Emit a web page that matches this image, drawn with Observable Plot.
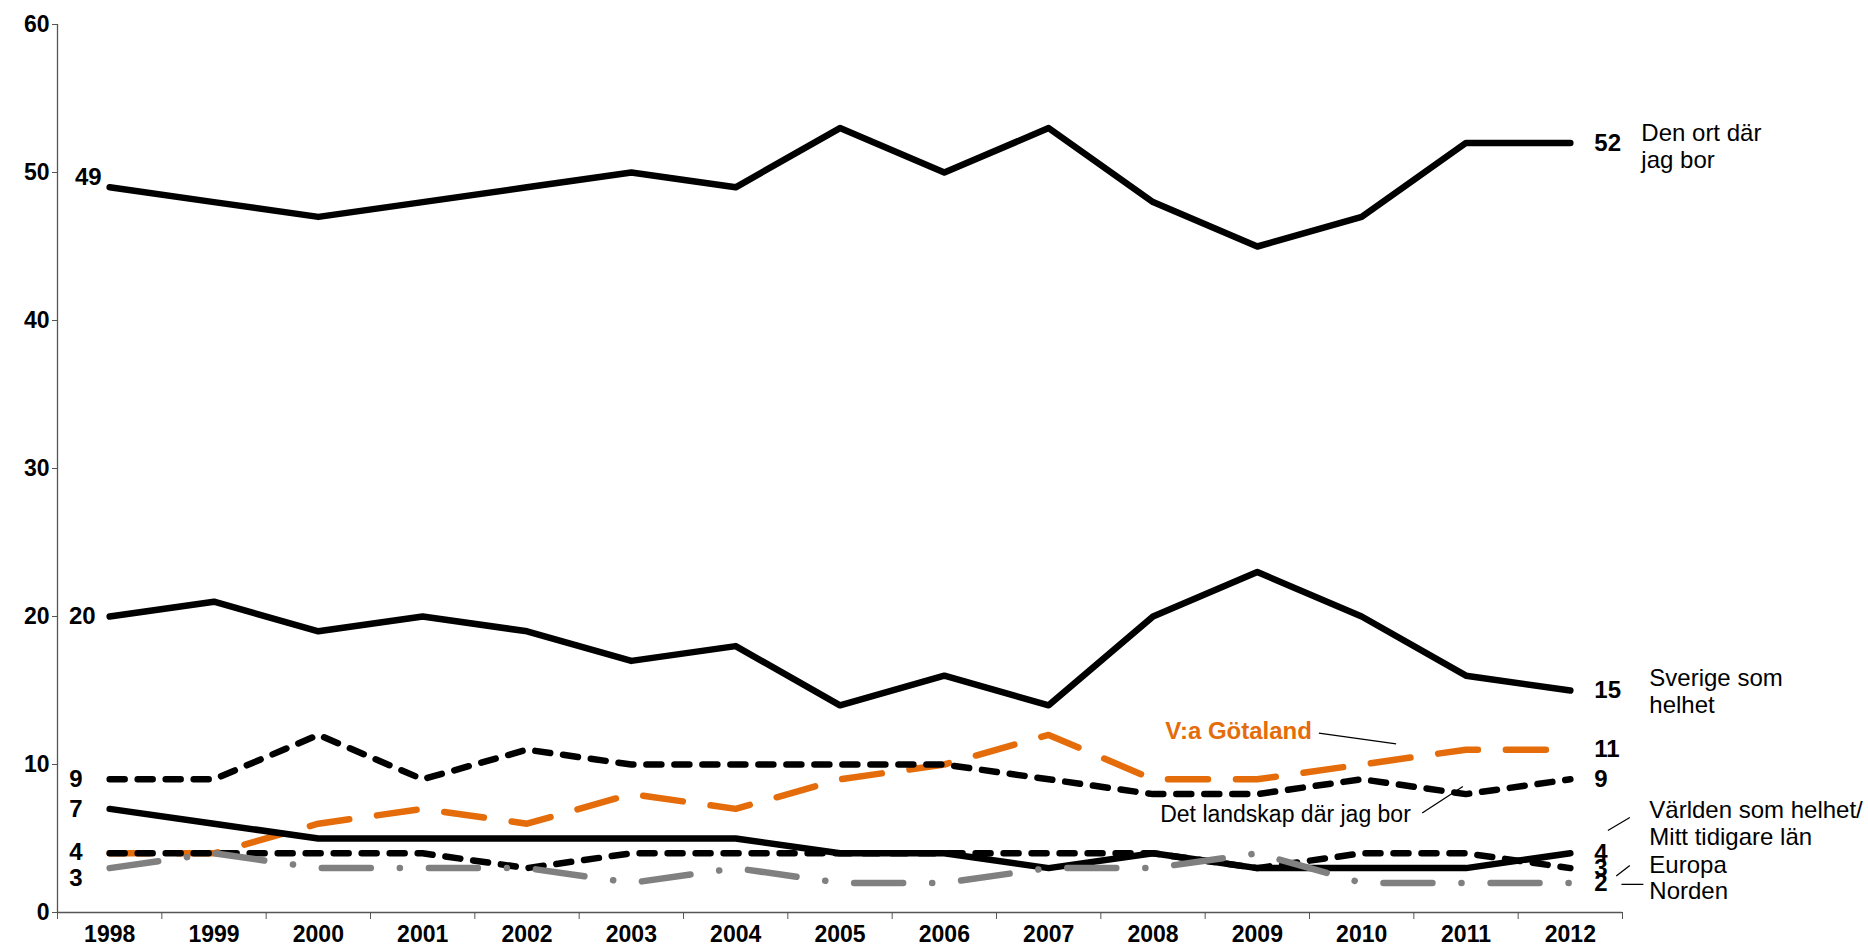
<!DOCTYPE html>
<html><head><meta charset="utf-8">
<script src="https://cdn.jsdelivr.net/npm/d3@7"></script>
<script src="https://cdn.jsdelivr.net/npm/@observablehq/plot@0.6"></script>
<style>body{margin:0;background:#fff}</style>
</head><body><div id="chart"></div>
<script>
const years = [1998,1999,2000,2001,2002,2003,2004,2005,2006,2007,2008,2009,2010,2011,2012];
const denOrtDarJagBor = [49,48,47,48,49,50,49,53,50,53,48,45,47,52,52];
const sverigeSomHelhet = [20,21,19,20,19,17,18,14,16,14,20,23,20,16,15];
const vaGotaland = [4,4,6,7,6,8,7,9,10,12,9,9,10,11,11];
const detLandskap = [9,9,12,9,11,10,10,10,10,9,8,8,9,8,9];
const varldenMittLan = [7,6,5,5,5,5,5,4,4,3,4,3,3,3,4];
const europa = [4,4,4,4,3,4,4,4,4,4,4,3,4,4,3];
const norden = [3,4,3,3,3,2,3,2,2,3,3,4,2,2,2];
const yTicks = [0,10,20,30,40,50,60];

const seriesNames = ["V:a Götaland","Den ort där jag bor","Sverige som helhet","Det landskap där jag bor","Världen som helhet/Mitt tidigare län","Europa","Norden"];
const seriesValues = [vaGotaland, denOrtDarJagBor, sverigeSomHelhet, detLandskap, varldenMittLan, europa, norden];

const styles = {
  "V:a Götaland": {stroke: "#E46C0A", strokeDasharray: "40 28"},
  "Den ort där jag bor": {stroke: "#000"},
  "Sverige som helhet": {stroke: "#000"},
  "Det landskap där jag bor": {stroke: "#000", strokeDasharray: "15 13"},
  "Världen som helhet/Mitt tidigare län": {stroke: "#000"},
  "Europa": {stroke: "#000", strokeDasharray: "15 13"},
  "Norden": {stroke: "#808080", strokeDasharray: "49 29 0.1 29"}
};

const table = seriesNames.map((name, i) => years.map((year, j) => ({series: name, year, value: seriesValues[i][j]})));
const font = "'Liberation Sans', Arial, sans-serif";
const first = (arr) => [{year: years[0], value: arr[0]}];
const last = (arr) => [{year: years[years.length - 1], value: arr[arr.length - 1]}];
const boundaries = years.map(y => y - 0.5).concat([years[years.length - 1] + 0.5]);

const lineMarks = table.map(rows => Plot.line(rows, {
  x: "year", y: "value", strokeWidth: 6.5, strokeLinecap: "round", strokeLinejoin: "round",
  ...styles[rows[0].series]
}));

const leftLabel = (arr, dx, dy = 0) => Plot.text(first(arr), {x: "year", y: "value", text: d => String(d.value), dx, dy, textAnchor: "end", fontWeight: "bold", fontSize: 24, fill: "#000"});
const rightLabel = (arr) => Plot.text(last(arr), {x: "year", y: "value", text: d => String(d.value), dx: 24, textAnchor: "start", fontWeight: "bold", fontSize: 24, fill: "#000"});
const nameLabel = (text, x, y, dx, opts = {}) => Plot.text([{x, y}], {x: "x", y: "y", text: () => text, dx, textAnchor: "start", lineAnchor: "middle", fontSize: 24, lineHeight: 1.15, fill: "#000", ...opts});

const chart = Plot.plot({
  width: 1868,
  height: 949,
  marginLeft: 57,
  marginRight: 246,
  marginTop: 24,
  marginBottom: 37,
  style: {fontFamily: font, background: "#fff", overflow: "visible"},
  x: {type: "linear", domain: [1997.5, 2012.5]},
  y: {domain: [0, 60]},
  marks: [
    Plot.axisY({ticks: yTicks, tickSize: 5, tickPadding: 3, fontSize: 23, fontWeight: "bold", label: null, stroke: "#555", color: "#000"}),
    Plot.axisX({ticks: boundaries, tickSize: 7, tickFormat: () => "", label: null, stroke: "#555"}),
    Plot.axisX({ticks: years, tickSize: 0, tickPadding: 13, tickFormat: d => String(d), fontSize: 23, fontWeight: "bold", label: null, color: "#000"}),
    Plot.ruleY([0], {stroke: "#555", strokeWidth: 1.3}),
    Plot.ruleX([1997.5], {stroke: "#555", strokeWidth: 1.3}),
    ...lineMarks,
    leftLabel(denOrtDarJagBor, -8, -10),
    leftLabel(sverigeSomHelhet, -14),
    leftLabel(detLandskap, -27),
    leftLabel(varldenMittLan, -27),
    leftLabel(europa, -27, -1),
    leftLabel(norden, -27, 10),
    rightLabel(denOrtDarJagBor),
    rightLabel(sverigeSomHelhet),
    rightLabel(vaGotaland),
    rightLabel(detLandskap),
    rightLabel(varldenMittLan),
    rightLabel(europa),
    rightLabel(norden),
    nameLabel("Den ort där\njag bor", 2012, 51.8, 71),
    nameLabel("Sverige som\nhelhet", 2012, 15.0, 79),
    nameLabel("Världen som helhet/\nMitt tidigare län", 2012, 6.08, 79),
    nameLabel("Europa", 2012, 3.3, 79),
    nameLabel("Norden", 2012, 1.53, 79),
    Plot.text([{x: 2008.82, y: 12.24}], {x: "x", y: "y", text: () => "V:a Götaland", fontSize: 24, fontWeight: "bold", fill: "#E46C0A", textAnchor: "middle"}),
    Plot.text([{x: 2009.27, y: 6.6}], {x: "x", y: "y", text: () => "Det landskap där jag bor", fontSize: 23, fill: "#000", textAnchor: "middle"}),
    Plot.link([
      {x1: 2009.59, y1: 12.12, x2: 2010.33, y2: 11.39},
      {x1: 2010.58, y1: 6.72, x2: 2010.97, y2: 8.51},
      {x1: 2012.36, y1: 5.54, x2: 2012.57, y2: 6.42},
      {x1: 2012.44, y1: 2.47, x2: 2012.57, y2: 3.18},
      {x1: 2012.49, y1: 1.9, x2: 2012.70, y2: 1.9}
    ], {x1: "x1", y1: "y1", x2: "x2", y2: "y2", stroke: "#000", strokeWidth: 1.3})
  ]
});
document.getElementById("chart").appendChild(chart);
</script>
</body></html>
